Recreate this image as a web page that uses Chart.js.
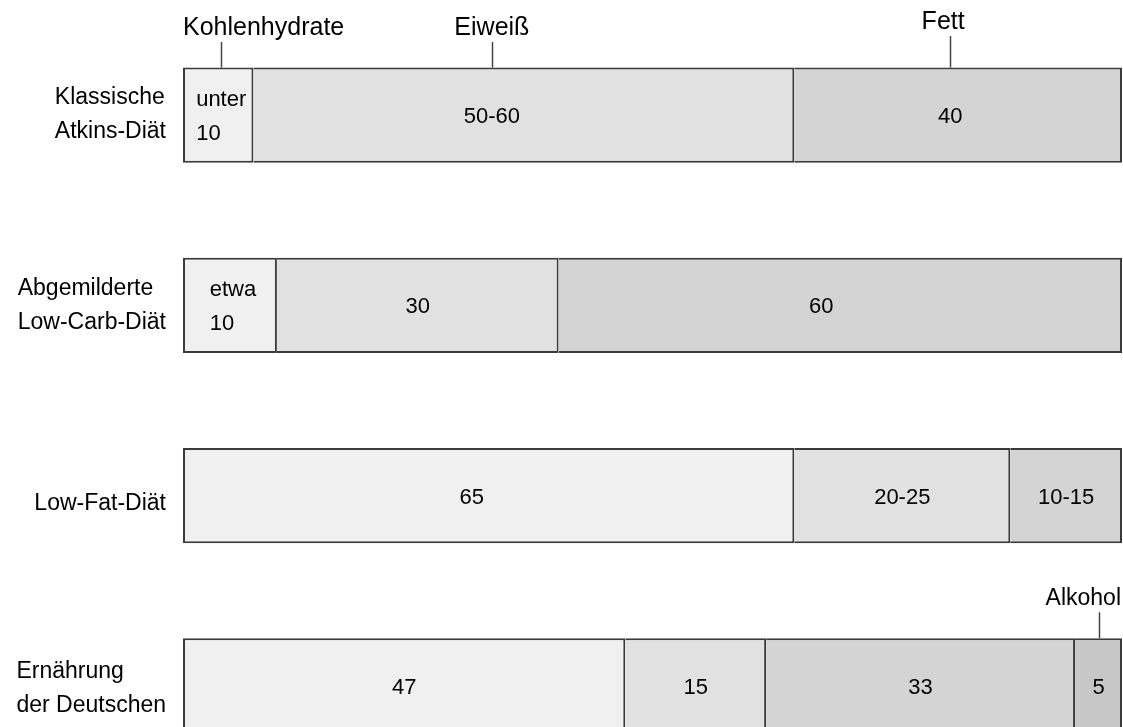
<!DOCTYPE html>
<html>
<head>
<meta charset="utf-8">
<script src="https://cdn.jsdelivr.net/npm/chart.js@4.4.1/dist/chart.umd.min.js"></script>
<style>
  html, body { margin: 0; padding: 0; background: #fff; overflow: hidden; }
  #wrap { width: 1123px; height: 781px; }
</style>
</head>
<body>
<div id="wrap"><canvas id="dietChart" width="1123" height="781"></canvas></div>
<script>
// rows (diets) and nutrient series, shares in percent
const diets = [
    ['Klassische', 'Atkins-Diät'],
    ['Abgemilderte', 'Low-Carb-Diät'],
    ['Low-Fat-Diät'],
    ['Ernährung', 'der Deutschen']
];
const nutrients = ['Kohlenhydrate', 'Eiweiß', 'Fett', 'Alkohol'];

const carbs   = [7.5, 10, 65.1, 47.1];
const protein = [57.6, 30, 23, 15];
const fat     = [34.9, 60, 11.9, 32.9];
const alcohol = [null, null, null, 5];

// texts printed inside the segments
const carbsText   = ['unter\n10', 'etwa\n10', '65', '47'];
const proteinText = ['50-60', '30', '20-25', '15'];
const fatText     = ['40', '60', '10-15', '33'];
const alcoholText = [null, null, null, '5'];

const FONT = "'Liberation Sans', Arial, Helvetica, sans-serif";
const fills = ['#f0f0f0', '#e1e1e1', '#d4d4d4', '#c7c7c7'];
const segTexts = [carbsText, proteinText, fatText, alcoholText];

// small horizontal nudges (px) for some segment texts, key = dataset-row
const textShift = { '0-0': 3, '0-1': 3, '1-0': -32, '2-0': -8, '2-1': -19, '0-2': -17 };

// callouts above the bars: which segment they point to
const callouts = [
    { text: 'Kohlenhydrate', ds: 0, row: 0, size: 25, align: 'left',   dy: 28 },
    { text: 'Eiweiß',        ds: 1, row: 0, size: 25, align: 'center', dy: 28 },
    { text: 'Fett',          ds: 2, row: 0, size: 25, align: 'center', dy: 22, tx: -7 },
    { text: 'Alkohol',       ds: 3, row: 3, size: 23, align: 'right',  dy: -40 }
];

function segCenter(chart, ds, row) {
    const el = chart.getDatasetMeta(ds).data[row];
    const shift = textShift[ds + '-' + row] || 0;
    return { x: (el.x + el.base) / 2 + shift, y: el.y, top: el.y - el.height / 2 };
}

Chart.register({
    id: 'dietLabels',
    afterDatasetsDraw(chart) {
        const { ctx, chartArea } = chart;
        ctx.save();
        ctx.fillStyle = '#000';

        // segment values
        ctx.font = '22px ' + FONT;
        ctx.textBaseline = 'middle';
        segTexts.forEach((texts, ds) => {
            texts.forEach((t, row) => {
                if (!t) return;
                const c = segCenter(chart, ds, row);
                const lines = t.split('\n');
                if (lines.length === 1) {
                    ctx.textAlign = 'center';
                    ctx.fillText(t, c.x, c.y + 2);
                } else {
                    const w = Math.max(...lines.map(l => ctx.measureText(l).width));
                    ctx.textAlign = 'left';
                    lines.forEach((l, i) => {
                        ctx.fillText(l, c.x - w / 2, c.y + 2 + (i - (lines.length - 1) / 2) * 34);
                    });
                }
            });
        });

        // diet names to the left of the bars
        ctx.font = '23px ' + FONT;
        const rowNudge = [0, 0, 8, 3];
        diets.forEach((lines, row) => {
            const el = chart.getDatasetMeta(0).data[row];
            const w = Math.max(...lines.map(l => ctx.measureText(l).width));
            const left = chartArea.left - 17 - w;
            ctx.textAlign = 'left';
            lines.forEach((l, i) => {
                ctx.fillText(l, left, el.y + rowNudge[row] + (i - (lines.length - 1) / 2) * 34);
            });
        });

        // callouts with leader ticks
        ctx.strokeStyle = '#444';
        ctx.lineWidth = 1.5;
        callouts.forEach(co => {
            const c = segCenter(chart, co.ds, co.row);
            const ty = co.dy > 0 ? co.dy : c.top + co.dy;
            ctx.font = co.size + 'px ' + FONT;
            ctx.textAlign = co.align;
            let tx = c.x + (co.tx || 0);
            if (co.align === 'left') tx = chartArea.left;
            if (co.align === 'right') tx = chartArea.right - 1;
            ctx.fillText(co.text, tx, ty);
            ctx.beginPath();
            ctx.moveTo(Math.round(c.x) + 0.5, ty + 14);
            ctx.lineTo(Math.round(c.x) + 0.5, c.top);
            ctx.stroke();
        });
        ctx.restore();
    }
});

const seriesValues = [carbs, protein, fat, alcohol];

new Chart(document.getElementById('dietChart').getContext('2d'), {
    type: 'bar',
    data: {
        labels: diets,
        datasets: nutrients.map((name, i) => ({
            label: name,
            data: seriesValues[i],
            backgroundColor: fills[i],
            borderColor: '#3a3a3a',
            borderWidth: 2,
            // later segments reuse the previous segment's right edge as divider
            borderSkipped: i === 0 ? false : 'left',
            barPercentage: 0.5,
            categoryPercentage: 1
        }))
    },
    options: {
        indexAxis: 'y',
        responsive: false,
        animation: false,
        layout: { padding: { left: 183, right: 1, top: 20, bottom: 0 } },
        scales: {
            x: { stacked: true, min: 0, max: 100, display: false },
            y: { stacked: true, display: false }
        },
        plugins: {
            legend: { display: false },
            tooltip: { enabled: false }
        }
    }
});
</script>
</body>
</html>
